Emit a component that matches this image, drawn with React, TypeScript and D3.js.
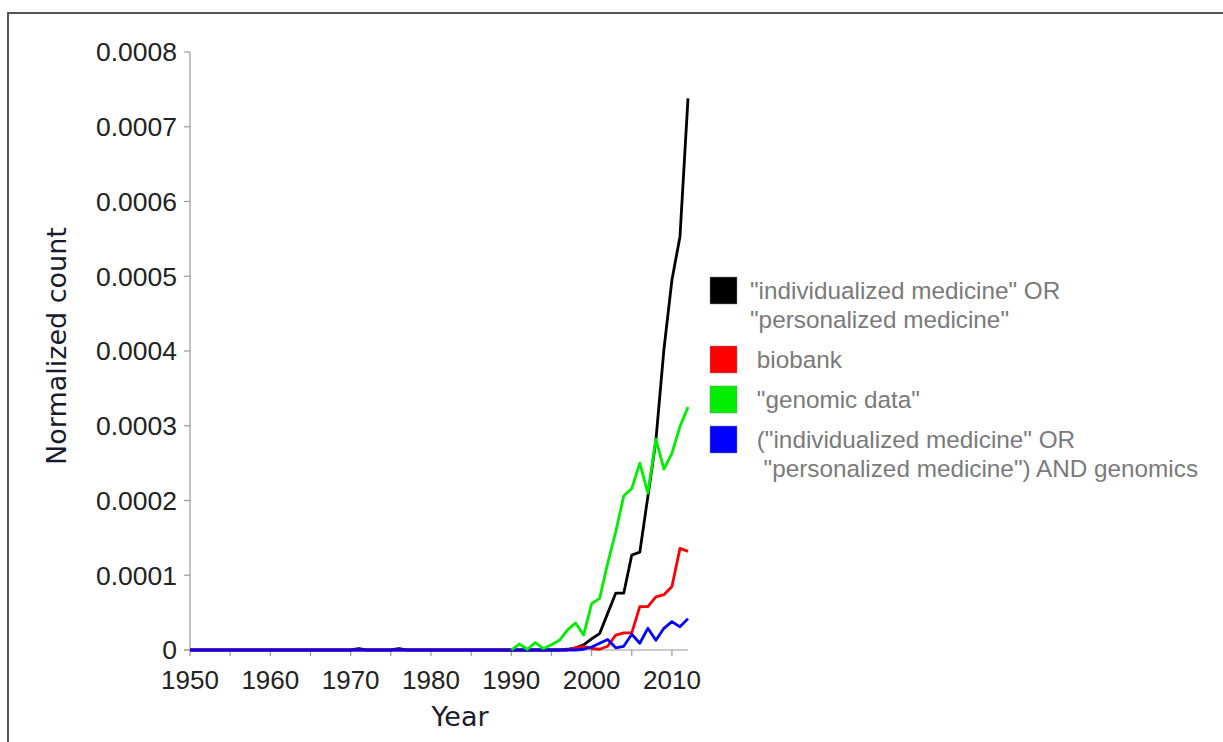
import * as d3 from "d3";

// years 1950..2012, one value per year
const years = d3.range(1950, 2013);

const personalized = [
  0, 0, 0, 0, 0, 0, 0, 0, 0, 0,
  0, 0, 0, 0, 0, 0, 0, 0, 0, 0,
  0, 0.000002, 0, 0, 0, 0, 0.000002, 0, 0, 0,
  0, 0, 0, 0, 0, 0, 0, 0, 0, 0,
  0, 0, 0, 0, 0, 0, 0, 0.000001, 0.000003, 0.000007,
  0.000015, 0.000022, 0.000049, 0.000076, 0.000076, 0.000127, 0.000131, 0.000205, 0.00028, 0.000402,
  0.000495, 0.000553, 0.000738,
];

const biobank = [
  0, 0, 0, 0, 0, 0, 0, 0, 0, 0,
  0, 0, 0, 0, 0, 0, 0, 0, 0, 0,
  0, 0, 0, 0, 0, 0, 0, 0, 0, 0,
  0, 0, 0, 0, 0, 0, 0, 0, 0, 0,
  0, 0, 0, 0, 0, 0, 0, 0, 0.000003, 0.000005,
  0.000002, 0.000001, 0.000005, 0.00002, 0.000023, 0.000023, 0.000058, 0.000058, 0.000071, 0.000074,
  0.000085, 0.000136, 0.000132,
];

// no green line before 1990
const genomicData = [
  null, null, null, null, null, null, null, null, null, null,
  null, null, null, null, null, null, null, null, null, null,
  null, null, null, null, null, null, null, null, null, null,
  null, null, null, null, null, null, null, null, null, null,
  0, 0.000008, 0.000001, 0.00001, 0.000002, 0.000007, 0.000013, 0.000027, 0.000036, 0.00002,
  0.000062, 0.000069, 0.000116, 0.000158, 0.000206, 0.000216, 0.00025, 0.00021, 0.000282, 0.000242,
  0.000263, 0.000299, 0.000325,
];

const andGenomics = [
  0, 0, 0, 0, 0, 0, 0, 0, 0, 0,
  0, 0, 0, 0, 0, 0, 0, 0, 0, 0,
  0, 0, 0, 0, 0, 0, 0, 0, 0, 0,
  0, 0, 0, 0, 0, 0, 0, 0, 0, 0,
  0, 0, 0, 0, 0, 0, 0, 0, 0, 0.000001,
  0.000004, 0.000009, 0.000014, 0.000003, 0.000005, 0.000021, 0.000009, 0.000029, 0.000013, 0.000029,
  0.000038, 0.000031, 0.000042,
];

const yTicks = [0, 0.0001, 0.0002, 0.0003, 0.0004, 0.0005, 0.0006, 0.0007, 0.0008];
const xLabelTicks = [1950, 1960, 1970, 1980, 1990, 2000, 2010];
const xMinorTicks = d3.range(1950, 2013, 5);

const series = [
  { name: "personalized", color: "#000000", values: personalized, label: ['"individualized medicine" OR', '"personalized medicine"'] },
  { name: "biobank", color: "#ff0000", values: biobank, label: [" biobank"] },
  { name: "genomic", color: "#00ee00", values: genomicData, label: [' "genomic data"'] },
  { name: "andGenomics", color: "#0000ff", values: andGenomics, label: [' ("individualized medicine" OR', '  "personalized medicine") AND genomics'] },
];

const drawOrder = ["personalized", "biobank", "andGenomics", "genomic"];

export default function App() {
  const width = 1223;
  const height = 742;
  const x = d3.scaleLinear().domain([1950, 2012]).range([190, 688]);
  const y = d3.scaleLinear().domain([0, 0.0008]).range([650, 52]);

  const line = d3.line<number | null>()
    .defined((d) => d !== null)
    .x((d, i) => x(years[i]))
    .y((d) => y(d as number));

  const tickFont = "'Liberation Sans', Arial, sans-serif";
  const titleFont = "'DejaVu Sans', Verdana, sans-serif";

  // legend rows
  let ly = 290;
  const legendRows = series.map((s) => {
    const row = { s, y: ly };
    ly += 40 + 29 * (s.label.length - 1);
    return row;
  });

  return (
    <svg width={width} height={height} style={{ position: "absolute", left: 0, top: 0, background: "#fff" }}>
      <rect x={8} y={13} width={1260} height={800} fill="none" stroke="#444" strokeWidth={1.8} />

      {/* y axis */}
      <line x1={190} x2={190} y1={y(0.0008)} y2={y(0)} stroke="#999" strokeWidth={1.2} />
      {yTicks.map((t) => (
        <g key={t}>
          <line x1={184} x2={190} y1={y(t)} y2={y(t)} stroke="#999" strokeWidth={1.2} />
          <text x={177} y={y(t)} dy="0.35em" textAnchor="end" fontFamily={tickFont} fontSize={26.5} fill="#222">
            {t === 0 ? "0" : t.toFixed(4)}
          </text>
        </g>
      ))}

      {/* x axis */}
      <line x1={184} x2={x(2012)} y1={y(0)} y2={y(0)} stroke="#999" strokeWidth={1.2} />
      {xMinorTicks.map((t) => (
        <line key={t} x1={x(t)} x2={x(t)} y1={y(0)} y2={y(0) + 6} stroke="#999" strokeWidth={1.2} />
      ))}
      {xLabelTicks.map((t) => (
        <text key={t} x={x(t)} y={680} dy="0.35em" textAnchor="middle" fontFamily={tickFont} fontSize={26} fill="#222">
          {t}
        </text>
      ))}

      <text x={460} y={717} dy="0.35em" textAnchor="middle" fontFamily={titleFont} fontSize={27} fill="#1a1a2e">Year</text>
      <text transform="translate(57,346) rotate(-90)" textAnchor="middle" dy="0.35em" fontFamily={titleFont} fontSize={27} fill="#1a1a2e">
        Normalized count
      </text>

      {/* lines */}
      {drawOrder.map((n) => {
        const s = series.find((d) => d.name === n)!;
        return (
          <path key={n} d={line(s.values) || ""} fill="none" stroke={s.color} strokeWidth={2.8} strokeLinejoin="round" />
        );
      })}

      {/* legend */}
      {legendRows.map(({ s, y: ry }) => (
        <g key={s.name}>
          <rect x={710} y={ry - 13} width={27} height={27} fill={s.color} stroke="#888" strokeWidth={0.5} />
          {s.label.map((l, j) => (
            <text key={j} x={750} y={ry + j * 29} dy="0.35em" fontFamily={tickFont} fontSize={24.3} fill="#7a7a7a" style={{ whiteSpace: "pre" }}>
              {l}
            </text>
          ))}
        </g>
      ))}
    </svg>
  );
}
